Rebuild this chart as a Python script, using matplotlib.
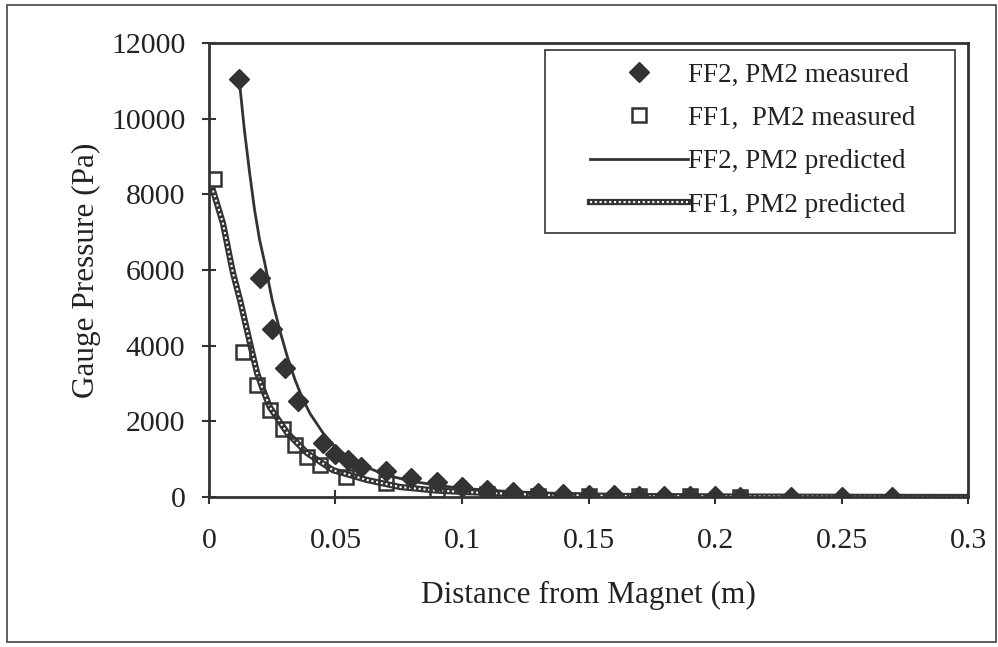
import matplotlib as mpl
mpl.use('Agg')
import matplotlib.pyplot as plt
from matplotlib.patches import Rectangle
from matplotlib.legend_handler import HandlerTuple

# measured FF2, PM2 (filled diamonds)
ff2_meas_x = [0.012, 0.02, 0.025, 0.03, 0.035, 0.045, 0.05, 0.055, 0.06, 0.07, 0.08,
              0.09, 0.1, 0.11, 0.12, 0.13, 0.14, 0.15, 0.16, 0.17, 0.18, 0.19, 0.2,
              0.21, 0.23, 0.25, 0.27]
ff2_meas_y = [11050, 5800, 4450, 3400, 2550, 1430, 1150, 980, 800, 690, 500,
              390, 270, 185, 130, 100, 80, 60, 50, 40, 30, 20, 15,
              10, 5, 5, 0]

# measured FF1, PM2 (open squares)
ff1_meas_x = [0.002, 0.0135, 0.019, 0.024, 0.0293, 0.034, 0.0388, 0.044, 0.054,
              0.07, 0.09, 0.11, 0.13, 0.15, 0.17, 0.19, 0.21]
ff1_meas_y = [8400, 3830, 2950, 2300, 1800, 1370, 1060, 850, 530,
              370, 180, 80, 40, 30, 20, 15, 10]

# predicted FF2, PM2 (solid line)
ff2_pred_x = [0.012, 0.014, 0.016, 0.018, 0.02, 0.022, 0.025, 0.028, 0.031, 0.034,
              0.037, 0.04, 0.045, 0.05, 0.055, 0.06, 0.07, 0.08, 0.09, 0.1,
              0.115, 0.13, 0.15, 0.18, 0.21, 0.25, 0.3]
ff2_pred_y = [11000, 9700, 8600, 7600, 6800, 6200, 5200, 4400, 3700, 3100,
              2600, 2200, 1700, 1300, 1050, 850, 580, 420, 310, 230,
              160, 110, 70, 40, 20, 10, 5]

# predicted FF1, PM2 (dotted band line)
ff1_pred_x = [0.0016, 0.0055, 0.0095, 0.0123, 0.0162, 0.019, 0.021, 0.024, 0.031,
              0.0388, 0.049, 0.0625, 0.0755, 0.09, 0.102, 0.13, 0.16, 0.2, 0.25, 0.3]
ff1_pred_y = [8100, 7240, 5920, 5200, 4070, 3280, 2900, 2380, 1690,
              1160, 710, 450, 265, 170, 130, 60, 30, 15, 5, 0]

xticks = [0, 0.05, 0.1, 0.15, 0.2, 0.25, 0.3]
xlabels = ['0', '0.05', '0.1', '0.15', '0.2', '0.25', '0.3']
yticks = [0, 2000, 4000, 6000, 8000, 10000, 12000]

dark = '#333333'
txt = '#222222'
plt.rcParams['font.family'] = ['Liberation Serif', 'DejaVu Serif']

fig = plt.figure(figsize=(9.98, 6.47), dpi=100)
ax = fig.add_axes([0.2094, 0.2318, 0.7606, 0.7017])

l_ff2_pred, = ax.plot(ff2_pred_x, ff2_pred_y, color=dark, lw=2, zorder=2)
l_ff1_band, = ax.plot(ff1_pred_x, ff1_pred_y, color=dark, lw=4.5, zorder=2)
l_ff1_dots, = ax.plot(ff1_pred_x, ff1_pred_y, color='white', lw=1.5,
                      linestyle=(0, (1, 1.3)), zorder=2.1)
m_ff2, = ax.plot(ff2_meas_x, ff2_meas_y, linestyle='none', marker='D', markersize=10,
                 color=dark, markeredgecolor=dark, zorder=3)
m_ff1, = ax.plot(ff1_meas_x, ff1_meas_y, linestyle='none', marker='s', markersize=10,
                 markerfacecolor='none', markeredgecolor=dark, markeredgewidth=1.8, zorder=4)

ax.set_xlim(0, 0.3)
ax.set_ylim(0, 12000)
ax.set_xticks(xticks)
ax.set_xticklabels(xlabels)
ax.set_yticks(yticks)
ax.tick_params(axis='both', direction='inout', length=10, width=1.5, color=dark,
               labelsize=21.5, labelcolor=txt)
ax.tick_params(axis='x', pad=17)
ax.tick_params(axis='y', pad=12)
for s in ax.spines.values():
    s.set_linewidth(2)
    s.set_color(dark)

ax.set_xlabel("Distance from Magnet (m)", fontsize=22.5, color=txt, labelpad=20)
ax.set_ylabel("Gauge Pressure (Pa)", fontsize=22.5, color=txt, labelpad=7)

# legend frame drawn separately so the left margin can be wider than the rest
ax.add_patch(Rectangle((0.4427, 0.5815), 0.5402, 0.4031, transform=ax.transAxes,
                       facecolor='white', edgecolor=dark, lw=1.2, zorder=5))
leg = ax.legend([m_ff2, m_ff1, l_ff2_pred, (l_ff1_band, l_ff1_dots)],
                ["FF2, PM2 measured", "FF1,  PM2 measured",
                 "FF2, PM2 predicted", "FF1, PM2 predicted"],
                handler_map={tuple: HandlerTuple(ndivide=1, pad=0)},
                loc='upper left', bbox_to_anchor=(0.502, 0.957), fontsize=19.5,
                numpoints=1, handlelength=3.6, handletextpad=0.0, labelspacing=0.68,
                borderpad=0, borderaxespad=0, frameon=False)
leg.set_zorder(6)
for t in leg.get_texts():
    t.set_color(txt)

# outer border round the whole figure
fig.patches.append(Rectangle((0.007, 0.008), 0.991, 0.984, transform=fig.transFigure,
                             fill=False, edgecolor='#444444', lw=1.2))

plt.savefig('out.png', dpi=100)
